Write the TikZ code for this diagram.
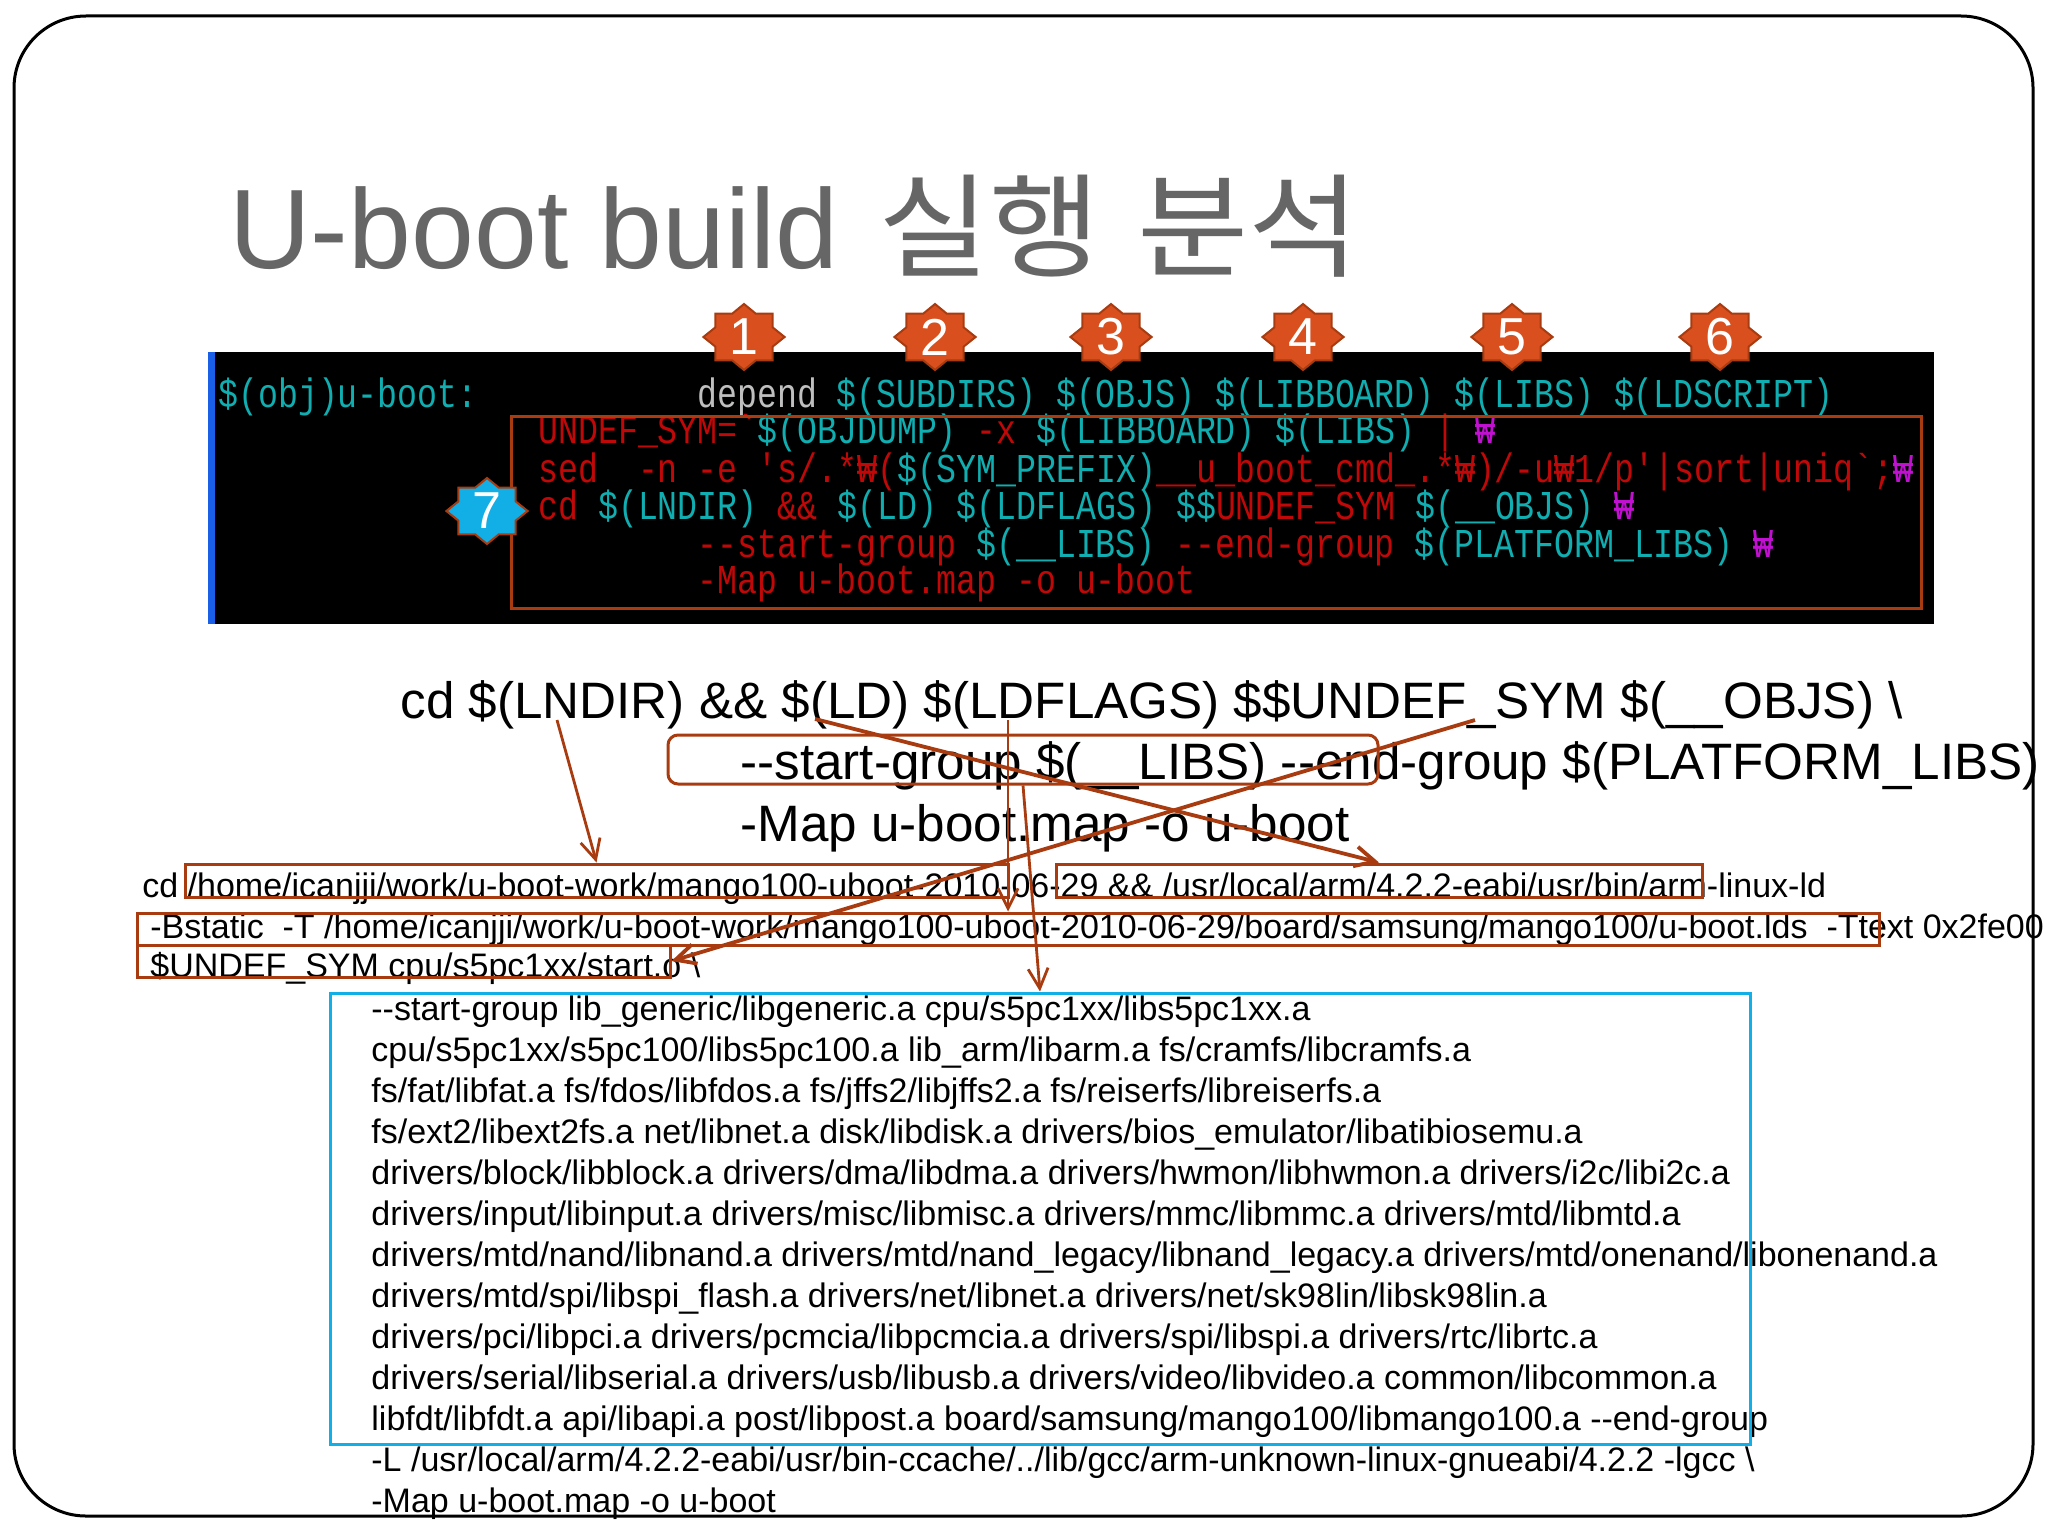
\documentclass[tikz,border=0pt]{standalone}
\usepackage{fontspec}
\usetikzlibrary{arrows.meta,fit,shapes.geometric}
\setmainfont{Liberation Sans}
\newfontfamily\termfont[FakeStretch=0.81]{Liberation Mono}
\newfontfamily\cjkfont[FakeStretch=1.07]{Noto Sans CJK KR}
\definecolor{slidegray}{HTML}{666666}
\definecolor{markred}{HTML}{A83C10}
\definecolor{linkblue}{HTML}{12AEE6}
\definecolor{stripblue}{HTML}{1A5FE8}
\definecolor{badgeorange}{HTML}{D9501E}
\definecolor{termcyan}{HTML}{10AEB0}
\definecolor{termred}{HTML}{C00808}
\definecolor{termpink}{HTML}{C010D0}
\newcommand{\tcy}[1]{\textcolor{termcyan}{#1}}
\newcommand{\tpk}[1]{\textcolor{termpink}{#1}}
\tikzset{
	termline/.style={anchor=base west,inner sep=0,text=termred,font=\termfont\fontsize{20.5}{20.5}\selectfont},
	bigline/.style={anchor=base west,inner sep=0,font=\fontsize{25.6}{25.6}\selectfont},
	smallline/.style={anchor=base west,inner sep=0,font=\fontsize{17}{17}\selectfont},
	redbox/.style={draw=markred,line width=1.5pt,inner sep=0,fit={#1}},
	badge/.style={star,star points=8,star point ratio=1.31,draw=markred,line width=1pt,minimum size=33pt,inner sep=0,xscale=1.23},
	badgenum/.style={text=white,inner sep=0,font=\fontsize{26}{26}\selectfont},
	callout/.style={draw=markred,line width=1.4pt,->,>={Straight Barb[length=10pt,width=10pt]}},
}
\begin{document}
\begin{tikzpicture}[x=0.5pt,y=-0.5pt]
	\useasboundingbox (0,0) rectangle (2048,1536);
	\draw[line width=1.5pt,rounded corners=36pt] (14,16) rectangle (2033,1516);
	% title
	\node[anchor=base west,inner sep=0,text=slidegray,font=\fontsize{56.5}{56.5}\selectfont] (title) at (229,268) {U-boot build\hspace{4pt} {\cjkfont 실행\hspace{5pt} 분석}};
	% terminal panel
	\fill[black] (208,352) rectangle (1934,624);
	\fill[stripblue] (208,352) rectangle (215,624);
	\node[termline,text=termcyan] (objline) at (218,407) {\$(obj)u-boot:};
	\node[termline,text=termcyan] (deps) at (697,407) {\textcolor{lightgray}{depend} \$(SUBDIRS) \$(OBJS) \$(LIBBOARD) \$(LIBS) \$(LDSCRIPT)};
	\node[termline] (termA) at (538,443) {UNDEF\_SYM=`\tcy{\$(OBJDUMP)} -x \tcy{\$(LIBBOARD) \$(LIBS)} | \tpk{₩}};
	\node[termline] (termB) at (538,482) {sed\ \ -n -e 's/.*₩(\tcy{\$(SYM\_PREFIX)}\_\_u\_boot\_cmd\_.*₩)/-u₩1/p'|sort|uniq`;\tpk{₩}};
	\node[termline] (termC) at (538,519) {cd \tcy{\$(LNDIR)} \&\& \tcy{\$(LD) \$(LDFLAGS) \$\$}UNDEF\_SYM \tcy{\$(\_\_OBJS)} \tpk{₩}};
	\node[termline] (termD) at (697,557) {-{}-start-group \tcy{\$(\_\_LIBS)} -{}-end-group \tcy{\$(PLATFORM\_LIBS)} \tpk{₩}};
	\node[termline] (termE) at (697,593) {-Map u-boot.map -o u-boot};
	\node[redbox={(511,416)(1921,608)}] (termbox) {};
	% numbered badges
	\foreach \n/\x in {1/744,2/935,3/1111,4/1303,5/1512,6/1720} {
		\node[badge,fill=badgeorange] (b\n) at (\x,337) {};
		\node[badgenum] at (b\n) {\n};
	}
	\node[badge,fill=linkblue] (b7) at (487,511) {};
	\node[badgenum] at (b7) {7};
	% big command
	\node[bigline] (bigA) at (400,718) {cd \$(LNDIR) \&\& \$(LD) \$(LDFLAGS) \$\$UNDEF\_SYM \$(\_\_OBJS) \textbackslash};
	\node[bigline] (bigB) at (740,779) {-{}-start-group \$(\_\_LIBS) -{}-end-group \$(PLATFORM\_LIBS)};
	\node[bigline] (bigC) at (740,841) {-Map u-boot.map -o u-boot};
	% expanded command
	\node[smallline] (s0) at (142,897) {cd /home/icanjji/work/u-boot-work/mango100-uboot-2010-06-29 \&\& /usr/local/arm/4.2.2-eabi/usr/bin/arm-linux-ld};
	\node[smallline] (s1) at (150,938) {-Bstatic\ \ -T /home/icanjji/work/u-boot-work/mango100-uboot-2010-06-29/board/samsung/mango100/u-boot.lds\ \ -Ttext 0x2fe00};
	\node[smallline] (s2) at (150,977) {\$UNDEF\_SYM cpu/s5pc1xx/start.o \textbackslash};
	\foreach \i/\t in {
		3/{-{}-start-group lib\_generic/libgeneric.a cpu/s5pc1xx/libs5pc1xx.a},
		4/{cpu/s5pc1xx/s5pc100/libs5pc100.a lib\_arm/libarm.a fs/cramfs/libcramfs.a},
		5/{fs/fat/libfat.a fs/fdos/libfdos.a fs/jffs2/libjffs2.a fs/reiserfs/libreiserfs.a},
		6/{fs/ext2/libext2fs.a net/libnet.a disk/libdisk.a drivers/bios\_emulator/libatibiosemu.a},
		7/{drivers/block/libblock.a drivers/dma/libdma.a drivers/hwmon/libhwmon.a drivers/i2c/libi2c.a},
		8/{drivers/input/libinput.a drivers/misc/libmisc.a drivers/mmc/libmmc.a drivers/mtd/libmtd.a},
		9/{drivers/mtd/nand/libnand.a drivers/mtd/nand\_legacy/libnand\_legacy.a drivers/mtd/onenand/libonenand.a},
		10/{drivers/mtd/spi/libspi\_flash.a drivers/net/libnet.a drivers/net/sk98lin/libsk98lin.a},
		11/{drivers/pci/libpci.a drivers/pcmcia/libpcmcia.a drivers/spi/libspi.a drivers/rtc/librtc.a},
		12/{drivers/serial/libserial.a drivers/usb/libusb.a drivers/video/libvideo.a common/libcommon.a},
		13/{libfdt/libfdt.a api/libapi.a post/libpost.a board/samsung/mango100/libmango100.a -{}-end-group},
		14/{-L /usr/local/arm/4.2.2-eabi/usr/bin-ccache/../lib/gcc/arm-unknown-linux-gnueabi/4.2.2 -lgcc \textbackslash},
		15/{-Map u-boot.map -o u-boot}}
		\node[smallline] (s\i) at (371,897+41*\i) {\t};
	% boxes
	\node[redbox={(185,864)(1008,897)}] (homebox) {};
	\node[redbox={(1056,864)(1702,897)}] (armbox) {};
	\node[redbox={(137,913)(1879,945)}] (bstaticbox) {};
	\node[redbox={(137,945)(670,977)}] (undefbox) {};
	\node[redbox={(668,735)(1378,784)},rounded corners=5pt] (groupbox) {};
	\node[redbox={(330,993)(1750,1444)},draw=linkblue] (libsbox) {};
	% arrows
	\coordinate (lndirpt) at (557,720);
	\coordinate (ldpt) at (815,719);
	\coordinate (flagspt) at (1008,720);
	\coordinate (sympt) at (1475,720);
	\draw[callout] (lndirpt) -- (homebox.north);
	\draw[callout,line width=1.9pt] (ldpt) -- (armbox.north);
	\draw[callout] (flagspt) -- (bstaticbox.north);
	\draw[callout,line width=1.9pt] (sympt) -- (undefbox.east);
	\draw[callout] (groupbox.south) -- (libsbox.north);
\end{tikzpicture}
\end{document}
